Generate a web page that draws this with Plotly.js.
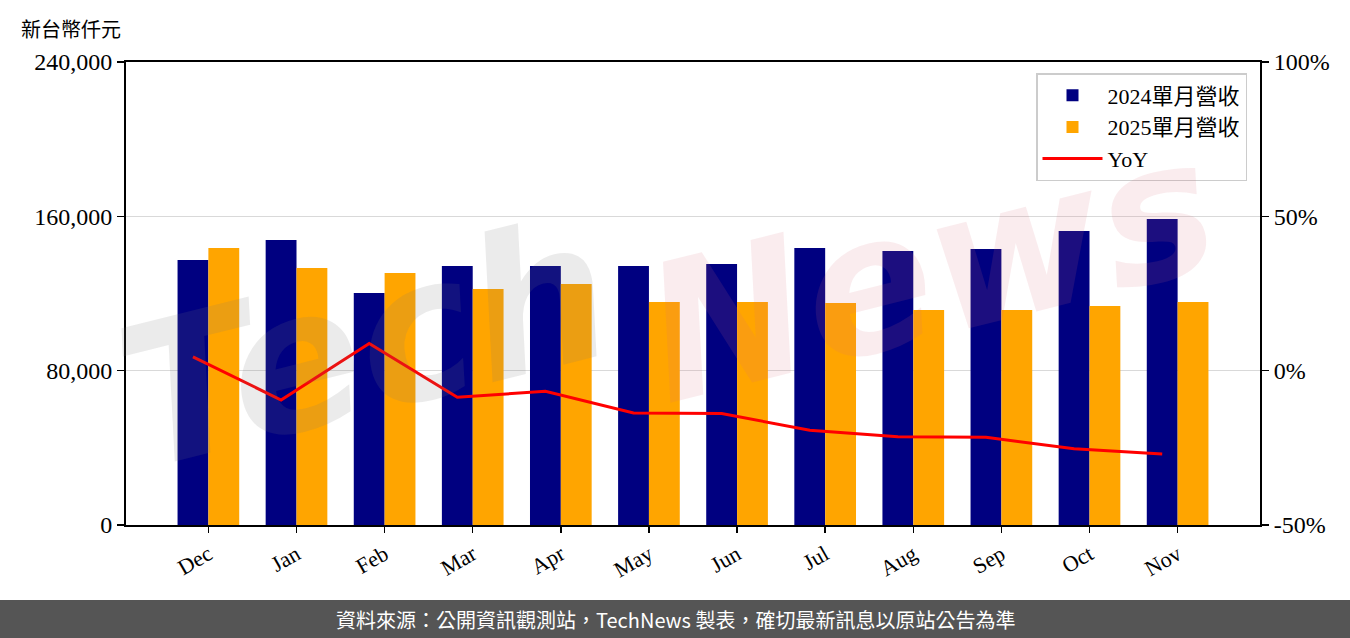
<!DOCTYPE html>
<html>
<head>
<meta charset="utf-8">
<script src="https://cdn.plot.ly/plotly-3.0.1.min.js"></script>
<style>
  html, body { margin: 0; padding: 0; background: #fff; }
  #chart { width: 1350px; height: 638px; }
</style>
</head>
<body>
<div id="chart"></div>
<script>
// ---- data ----
const months = ['Dec', 'Jan', 'Feb', 'Mar', 'Apr', 'May', 'Jun', 'Jul', 'Aug', 'Sep', 'Oct', 'Nov'];
const rev2024 = [137400, 147700, 120300, 134300, 134300, 134300, 135300, 143600, 142000, 143100, 152400, 158600];
const rev2025 = [143600, 133200, 130600, 122300, 124900, 115600, 115600, 115100, 111500, 111500, 113500, 115600];
const yoyPct  = [4.5, -9.5, 8.8, -8.6, -6.7, -13.7, -13.9, -19.3, -21.4, -21.6, -25.3, -27.0];
const leftTicks = [0, 80000, 160000, 240000];
const rightTicks = [-50, 0, 50, 100];
const rightTickText = ['-50%', '0%', '50%', '100%'];
const seriesNames = ['2024單月營收', '2025單月營收', 'YoY'];
const unitLabel = '新台幣仟元';
const footerText = '資料來源：公開資訊觀測站，TechNews 製表，確切最新訊息以原站公告為準';

// ---- layout helpers ----
const W = 1350, H = 638;
const M = {l: 126, r: 90, t: 62, b: 113};
const pw = W - M.l - M.r, ph = H - M.t - M.b;
const px = x => (x - M.l) / pw;          // page px -> paper x
const py = y => (H - M.b - y) / ph;      // page px -> paper y

const idx = months.map((m, i) => i);
const barW = 0.35;
const serif = "'Liberation Serif', 'DejaVu Serif', 'Noto Sans CJK TC', serif";

const traces = [
  {type: 'bar', name: seriesNames[0], x: idx, y: rev2024, width: barW, offset: -barW,
   marker: {color: '#000080', line: {width: 0}}, yaxis: 'y'},
  {type: 'bar', name: seriesNames[1], x: idx, y: rev2025, width: barW, offset: 0,
   marker: {color: '#FFA500', line: {width: 0}}, yaxis: 'y'},
  {type: 'scatter', mode: 'lines', name: seriesNames[2], x: idx.map(i => i - barW / 2), y: yoyPct,
   line: {color: '#FF0000', width: 3}, yaxis: 'y2'}
];

const layout = {
  width: W, height: H,
  margin: M,
  paper_bgcolor: '#fff', plot_bgcolor: '#fff',
  barmode: 'overlay',
  showlegend: true,
  font: {family: serif, size: 18, color: '#000'},
  xaxis: {
    range: [-0.935, 11.935], tickvals: idx, ticktext: months, tickangle: -30,
    ticks: 'outside', ticklen: 6, tickwidth: 1.5, tickcolor: '#000',
    showline: true, linecolor: '#000', linewidth: 2, mirror: true,
    showgrid: false, zeroline: false, tickfont: {family: serif, size: 22}
  },
  yaxis: {
    range: [0, 240000], tickvals: leftTicks, tickformat: ',d',
    ticks: 'outside', ticklen: 7, tickwidth: 1.5, tickcolor: '#000',
    showline: true, linecolor: '#000', linewidth: 2, mirror: true,
    showgrid: true, gridcolor: '#d9d9d9', gridwidth: 1.5, zeroline: false,
    tickfont: {family: serif, size: 24}
  },
  yaxis2: {
    overlaying: 'y', side: 'right', range: [-50, 100], tickvals: rightTicks, ticktext: rightTickText,
    ticks: 'outside', ticklen: 7, tickwidth: 1.5, tickcolor: '#000',
    showline: true, linecolor: '#000', linewidth: 2,
    showgrid: false, zeroline: false, tickfont: {family: serif, size: 24}
  },
  legend: {
    x: px(1247), y: py(73), xanchor: 'right', yanchor: 'top',
    bgcolor: 'rgba(255,255,255,0.85)', bordercolor: '#cccccc', borderwidth: 1.5,
    font: {family: serif, size: 22}, tracegroupgap: 0, itemwidth: 60
  },
  shapes: [
    {type: 'rect', xref: 'paper', yref: 'paper', x0: px(0), x1: px(W), y0: py(638), y1: py(600),
     fillcolor: '#555555', line: {width: 0}, layer: 'above'}
  ],
  annotations: [
    {text: 'Tech', xref: 'paper', yref: 'paper', x: px(365), y: py(345), xanchor: 'center', yanchor: 'middle',
     showarrow: false, textangle: -14,
     font: {family: "'DejaVu Sans', sans-serif", size: 195, style: 'italic', weight: 700,
     color: 'rgba(120,120,120,0.15)'}},
    {text: 'News', xref: 'paper', yref: 'paper', x: px(930), y: py(270), xanchor: 'center', yanchor: 'middle',
     showarrow: false, textangle: -14,
     font: {family: "'DejaVu Sans', sans-serif", size: 190, style: 'italic', weight: 700,
     color: 'rgba(215,110,120,0.13)'}},
    {text: unitLabel, xref: 'paper', yref: 'paper', x: px(19), y: py(28), xanchor: 'left', yanchor: 'middle',
     showarrow: false, font: {family: "'Noto Sans CJK TC', serif", size: 20, color: '#000'}},
    {text: footerText, xref: 'paper', yref: 'paper', x: px(675), y: py(619), xanchor: 'center', yanchor: 'middle',
     showarrow: false, font: {family: "'Noto Sans CJK TC', 'Noto Sans', sans-serif", size: 20, color: '#ffffff'}}
  ]
};

Plotly.newPlot('chart', traces, layout, {displayModeBar: false, staticPlot: true});
</script>
</body>
</html>
